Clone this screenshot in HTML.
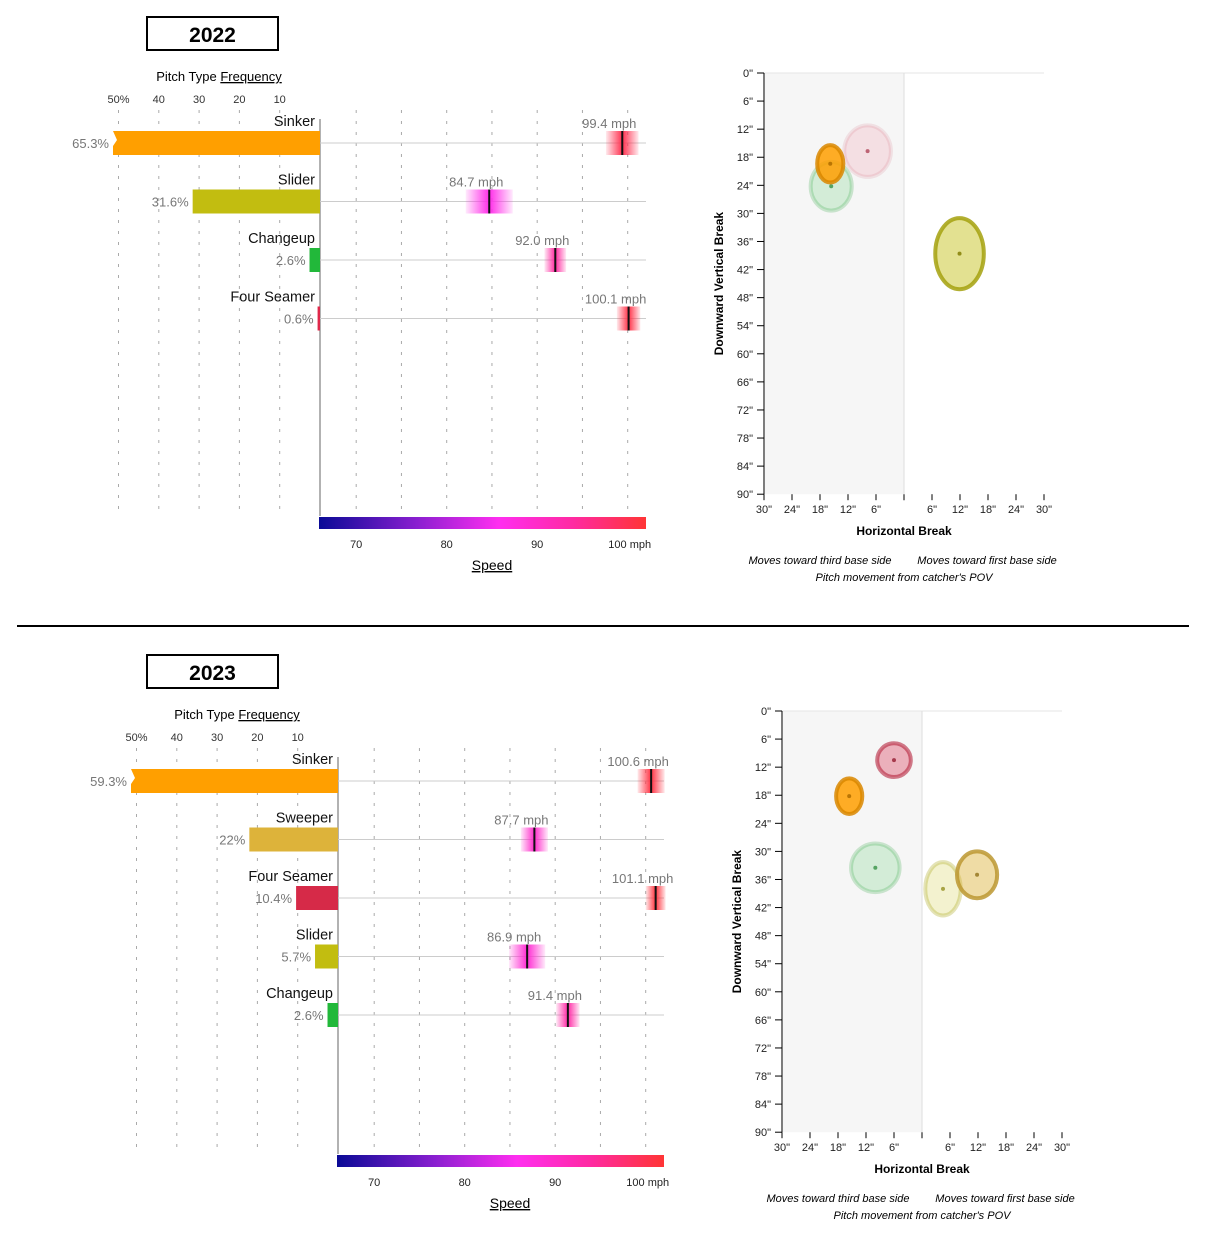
<!DOCTYPE html>
<html><head><meta charset="utf-8">
<style>
body{margin:0;background:#fff;width:1227px;height:1245px;overflow:hidden}
svg{display:block}
.cn{font-family:"Liberation Sans Narrow","Liberation Sans",sans-serif}
.ar{font-family:"Liberation Sans",sans-serif}
</style></head>
<body>
<svg id="chart" width="1227" height="1245" viewBox="0 0 1227 1245" xmlns="http://www.w3.org/2000/svg">
<defs>
<linearGradient id="speedGrad" x1="0" x2="1" y1="0" y2="0">
<stop offset="0" stop-color="#0a0a96"/><stop offset="0.3" stop-color="#8a1fd0"/><stop offset="0.55" stop-color="#ff2ef0"/><stop offset="0.78" stop-color="#ff2aa0"/><stop offset="1" stop-color="#ff3535"/>
</linearGradient>
</defs>
<line x1="17" y1="626" x2="1189" y2="626" stroke="#000" stroke-width="2"/>
</svg>
<script>
// ---- 2022 data ----
const pitches2022 = ["Sinker","Slider","Changeup","Four Seamer"];
const freq2022 = [65.3, 31.6, 2.6, 0.6];
const freqLabels2022 = ["65.3%","31.6%","2.6%","0.6%"];
const speed2022 = [99.4, 84.7, 92.0, 100.1];
const spread2022 = [1.8, 2.6, 1.2, 1.3];
const colors2022 = ["#ff9f00","#c2bd10","#22b83a","#e0284a"];
const hb2022 = [-15.8, 11.9, -15.6, -7.8];
const vb2022 = [19.4, 38.6, 24.2, 16.7];
const hbSd2022 = [2.8, 5.2, 4.4, 5.0];
const vbSd2022 = [4.0, 7.6, 5.2, 5.5];
const alpha2022 = [1, 1, 0.25, 0.12];
// ---- 2023 data ----
const pitches2023 = ["Sinker","Sweeper","Four Seamer","Slider","Changeup"];
const freq2023 = [59.3, 22, 10.4, 5.7, 2.6];
const freqLabels2023 = ["59.3%","22%","10.4%","5.7%","2.6%"];
const speed2023 = [100.6, 87.7, 101.1, 86.9, 91.4];
const spread2023 = [1.5, 1.5, 1.1, 2.0, 1.3];
const colors2023 = ["#ff9f00","#ddb33a","#d62a48","#c2bd10","#22b83a"];
const hb2023 = [-15.6, 11.8, -6.0, 4.5, -10.0];
const vb2023 = [18.2, 35.0, 10.5, 38.0, 33.5];
const hbSd2023 = [2.8, 4.3, 3.6, 3.8, 5.2];
const vbSd2023 = [3.8, 5.0, 3.6, 5.7, 5.2];
const alpha2023 = [1, 1, 0.7, 0.35, 0.25];
// axis ticks
const freqTicks = [50,40,30,20,10];
const speedTicks = [70,80,90,100];
const speedGrid = [70,75,80,85,90,95,100];
const vTicks = [0,6,12,18,24,30,36,42,48,54,60,66,72,78,84,90];
const hTicks = [-30,-24,-18,-12,-6,0,6,12,18,24,30];

const NS="http://www.w3.org/2000/svg";
const svg=document.getElementById('chart');
function mk(tag,attrs,parent,text){const e=document.createElementNS(NS,tag);for(const k in attrs)e.setAttribute(k,attrs[k]);if(text!==undefined)e.textContent=text;(parent||svg).appendChild(e);return e;}
function speedColor(s){
  const stops=[[66,[10,10,150]],[75.5,[138,31,208]],[84,[255,46,240]],[92,[255,42,160]],[102,[255,53,53]]];
  for(let i=0;i<stops.length-1;i++){const a=stops[i],b=stops[i+1];if(s<=b[0]||i===stops.length-2){let t=Math.max(0,Math.min(1,(s-a[0])/(b[0]-a[0])));return 'rgb('+a[1].map((v,j)=>Math.round(v+(b[1][j]-v)*t)).join(',')+')';}}
}
function darker(hex,f){const n=parseInt(hex.slice(1),16);return 'rgb('+[(n>>16)&255,(n>>8)&255,n&255].map(v=>Math.round(v*f)).join(',')+')';}
let gid=0;
function panel(dx,dy,boxDx,year,pitches,freq,freqLabels,speed,spread,colors,hb,vb,hbSd,vbSd,alpha){
  const g=mk('g',{transform:'translate('+dx+','+dy+')'});
  
  
  const box=mk('rect',{x:147+boxDx,y:17,width:131,height:33,fill:'#fff',stroke:'#000','stroke-width':2},g);
  
  
  const yt=mk('text',{x:212.5+boxDx,y:42,'text-anchor':'middle','font-size':21,'font-weight':'bold',class:'ar'},g,year);
  
  
  const ft=mk('text',{x:219,y:81,'text-anchor':'middle','font-size':13,class:'cn'},g);
  
  
  mk('tspan',{},ft,'Pitch Type ');mk('tspan',{'text-decoration':'underline'},ft,'Frequency');
  const fx=p=>320-p*4.03;
  const sx=s=>320+(s-66)*9.05;
  const rowY=i=>143+i*58.5;
  const bottom=510;
  freqTicks.forEach(t=>{
    const l=mk('line',{x1:fx(t),x2:fx(t),y1:110,y2:bottom,stroke:'#aaa','stroke-dasharray':'3,8'},g);
    
    
    const tx=mk('text',{x:fx(t),y:103,'text-anchor':'middle','font-size':11,fill:'#333',class:'ar'},g,t===50?'50%':t);
    
    
  });
  speedGrid.forEach(t=>{
    const l=mk('line',{x1:sx(t),x2:sx(t),y1:110,y2:bottom,stroke:'#aaa','stroke-dasharray':'3,8'},g);
    
    
  });
  const ax=mk('line',{x1:320,x2:320,y1:rowY(0)-24,y2:bottom+6,stroke:'#999','stroke-width':1.5},g);
  
  
  pitches.forEach((p,i)=>{
    const y=rowY(i);
    const hl=mk('line',{x1:320,x2:646,y1:y,y2:y,stroke:'#ccc'},g);
    
    
    let bar;
    if(freq[i]>51){
      const l=113,r=320,t=y-12,b=y+12;
      bar=mk('polygon',{points:[[r,t],[l,t],[l+4,y-3],[l,y+3],[l,b],[r,b]].map(a=>a.join(',')).join(' '),fill:colors[i]},g);
    } else {
      bar=mk('rect',{x:fx(freq[i]),y:y-12,width:320-fx(freq[i]),height:24,fill:colors[i]},g);
    }
    
    
    const lx=Math.max(fx(freq[i]),113)-4;
    const pl=mk('text',{x:lx,y:y+5,'text-anchor':'end','font-size':13,fill:'#777',class:'cn'},g,freqLabels[i]);
    
    
    const nl=mk('text',{x:315,y:y-17,'text-anchor':'end','font-size':14.5,fill:'#111',class:'cn'},g,p);
    
    
    const c=speedColor(speed[i]);const id='mg'+(gid++);
    const lg=mk('linearGradient',{id:id,x1:0,x2:1,y1:0,y2:0},svg.querySelector('defs'));
    mk('stop',{offset:0,'stop-color':c,'stop-opacity':0.1},lg);
    mk('stop',{offset:0.5,'stop-color':c,'stop-opacity':1},lg);
    mk('stop',{offset:1,'stop-color':c,'stop-opacity':0.1},lg);
    const w=spread[i]*9.05;
    const mr=mk('rect',{x:sx(speed[i])-w,y:y-12,width:2*w,height:24,fill:'url(#'+id+')'},g);
    
    
    const ml=mk('line',{x1:sx(speed[i]),x2:sx(speed[i]),y1:y-12,y2:y+12,stroke:'#111','stroke-width':2},g);
    
    
    const st=mk('text',{x:sx(speed[i])-13,y:y-15,'text-anchor':'middle','font-size':13,fill:'#777',class:'cn'},g,speed[i].toFixed(1)+' mph');
    
    
  });
  const sb=mk('rect',{x:319,y:517,width:327,height:12,fill:'url(#speedGrad)'},g);
  
  
  speedTicks.forEach(t=>{
    const tx=mk('text',{x:sx(t)+(t===100?2:0),y:548,'text-anchor':'middle','font-size':11,fill:'#222',class:'ar'},g,t===100?'100 mph':t);
    
    
  });
  const sp=mk('text',{x:492,y:570,'text-anchor':'middle','font-size':14,'text-decoration':'underline',class:'cn'},g,'Speed');
  
  
  const hx=h=>904+h*4.667;
  const vy=v=>73+v*4.68;
  const bg=mk('rect',{x:hx(-30),y:vy(0),width:hx(0)-hx(-30),height:vy(90)-vy(0),fill:'#f6f6f6'},g);
  
  
  const top=mk('line',{x1:hx(-30),x2:hx(30),y1:vy(0),y2:vy(0),stroke:'#e6e6e6'},g);
  
  
  const cl=mk('line',{x1:hx(0),x2:hx(0),y1:vy(0),y2:vy(90),stroke:'#ddd'},g);
  
  
  const ya=mk('line',{x1:hx(-30),x2:hx(-30),y1:vy(0),y2:vy(90),stroke:'#000'},g);
  
  
  vTicks.forEach(v=>{
    mk('line',{x1:hx(-30)-7,x2:hx(-30),y1:vy(v),y2:vy(v),stroke:'#000'},g);
    const tx=mk('text',{x:hx(-30)-11,y:vy(v)+4,'text-anchor':'end','font-size':11,fill:'#222',class:'ar'},g,v+'"');
    
    
  });
  hTicks.forEach(h=>{
    mk('line',{x1:hx(h),x2:hx(h),y1:vy(90),y2:vy(90)+6,stroke:'#000'},g);
    if(h!==0){const tx=mk('text',{x:hx(h),y:vy(90)+19,'text-anchor':'middle','font-size':11,fill:'#222',class:'ar'},g,Math.abs(h)+'"');
    
    }
  });
  const yl=mk('text',{x:0,y:0,transform:'translate(723,'+vy(45)+') rotate(-90)','text-anchor':'middle','font-size':12,'font-weight':'bold',class:'ar'},g,'Downward Vertical Break');
  
  
  const xl=mk('text',{x:904,y:535,'text-anchor':'middle','font-size':12,'font-weight':'bold',class:'ar'},g,'Horizontal Break');
  
  
  const c1=mk('text',{x:820,y:564,'text-anchor':'middle','font-size':11,'font-style':'italic',class:'ar'},g,'Moves toward third base side');
  
  
  const c2=mk('text',{x:987,y:564,'text-anchor':'middle','font-size':11,'font-style':'italic',class:'ar'},g,'Moves toward first base side');
  
  
  const c3=mk('text',{x:904,y:581,'text-anchor':'middle','font-size':11,'font-style':'italic',class:'ar'},g,"Pitch movement from catcher's POV");
  
  
  const order=pitches.map((p,i)=>i).sort((a,b)=>alpha[a]-alpha[b]);
  order.forEach(i=>{
    const cx=hx(hb[i]),cy=vy(vb[i]);
    const solidSinker=(pitches[i]==='Sinker');
    const e=mk('ellipse',{cx:cx,cy:cy,rx:hbSd[i]*4.667,ry:vbSd[i]*4.68,fill:colors[i],'fill-opacity':solidSinker?0.85:0.4*alpha[i]+0.06,stroke:darker(colors[i],0.85),'stroke-opacity':0.85*alpha[i],'stroke-width':4},g);
    
    
    const d=mk('circle',{cx:cx,cy:cy,r:2,fill:darker(colors[i],0.7),'fill-opacity':0.6+0.3*alpha[i]},g);
    
    
  });
}
panel(0,0,0,'2022',pitches2022,freq2022,freqLabels2022,speed2022,spread2022,colors2022,hb2022,vb2022,hbSd2022,vbSd2022,alpha2022);
panel(18,638,-18,'2023',pitches2023,freq2023,freqLabels2023,speed2023,spread2023,colors2023,hb2023,vb2023,hbSd2023,vbSd2023,alpha2023);
</script>
</body></html>
